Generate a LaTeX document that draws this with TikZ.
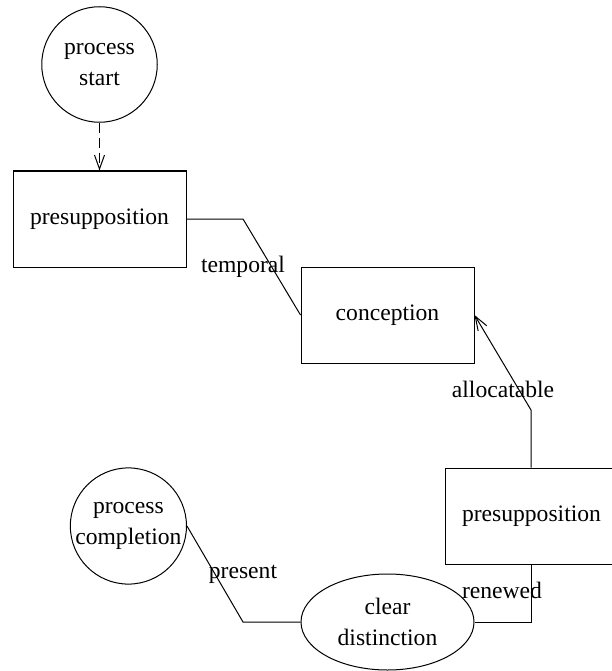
\documentclass[tikz,border=0pt]{standalone}
\usepackage{fontspec}
\setmainfont{Liberation Serif}
\usetikzlibrary{shapes.geometric,arrows.meta}
\begin{document}
\begin{tikzpicture}[x=1pt,y=-1pt,
  every node/.style={font=\fontsize{23.6}{31.5}\selectfont},
  line/.style={draw,line width=1pt},
  boxnode/.style={draw,line width=1pt,rectangle,minimum width=173pt,minimum height=96pt,inner sep=0pt},
  circnode/.style={draw,line width=1pt,circle,minimum size=115.5pt,inner sep=0pt,align=center},
  ellnode/.style={draw,line width=1pt,ellipse,minimum width=173pt,minimum height=96pt,inner sep=0pt,align=center},
  lbl/.style={anchor=base,inner sep=0pt},
  tip/.style={-{Straight Barb[length=14pt,width=10pt,line width=1pt]}}
]
\useasboundingbox (0,0) rectangle (611,671);
\node[circnode] (start) at (99.5,64.5) {process\\start};
\node[boxnode] (pre1) at (99.5,219) {presupposition};
\node[boxnode] (conc) at (387.5,315) {conception};
\node[boxnode] (pre2) at (531.5,516) {presupposition};
\node[ellnode] (clear) at (387.5,622) {clear\\distinction};
\node[circnode] (comp) at (128.4,526) {process\\completion};

\coordinate (b1) at (243,219);
\coordinate (b2) at (531,410);
\coordinate (b3) at (531,622);
\coordinate (b4) at (243,622);

\draw[line,tip,dash pattern=on 10pt off 5pt] (start.south) -- (pre1.north);
\draw[line] (pre1.east) -- (b1) -- (conc.west);
\draw[line,tip] (pre2.north -| b2) -- (b2) -- (conc.east);
\draw[line] (pre2.south -| b3) -- (b3) -- (clear.east);
\draw[line] (clear.west) -- (b4) -- (comp.east);

\node[lbl] (l1) at (243,272) {temporal};
\node[lbl] (l2) at (503,397) {allocatable};
\node[lbl] (l3) at (502,598) {renewed};
\node[lbl] (l4) at (243,578) {present};
\end{tikzpicture}
\end{document}
